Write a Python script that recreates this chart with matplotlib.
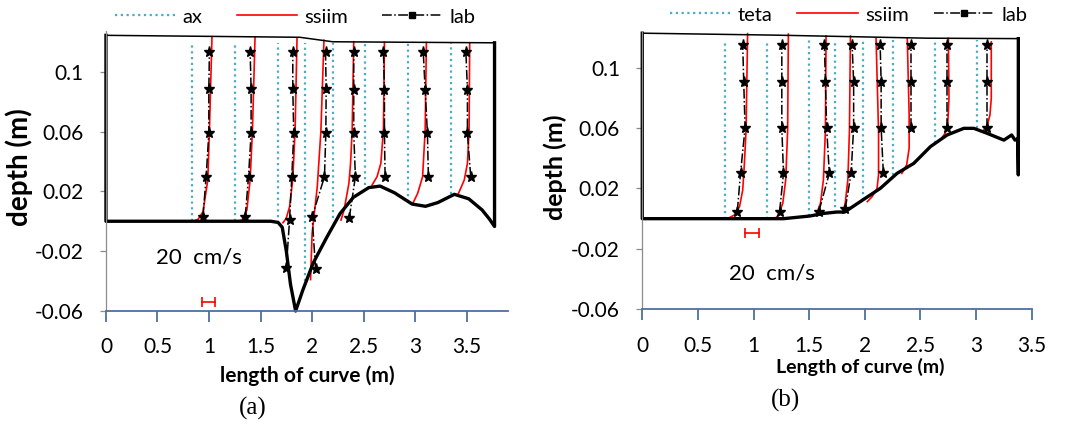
import numpy as np
import matplotlib.pyplot as plt

plt.rcParams['font.family'] = ['Lato', 'DejaVu Sans']

# масштаб скорости: 20 см/с -> 0.125 м по длине
SCALE = 0.125 / 20.0

# ---------------- (a) ----------------
a_bed_x = [0, 1.60, 1.67, 1.71, 1.75, 1.79, 1.84, 1.91, 2.01, 2.14, 2.27, 2.40,
           2.55, 2.66, 2.80, 2.97, 3.10, 3.22, 3.38, 3.52, 3.65, 3.72, 3.77]
a_bed_z = [0, 0, -0.0008, -0.004, -0.020, -0.042, -0.060, -0.046, -0.028, -0.011,
           0.005, 0.016, 0.0225, 0.0235, 0.019, 0.0115, 0.0100, 0.0125, 0.0180,
           0.0150, 0.0075, 0.0015, -0.0035]
a_surf_x = [0, 1.88, 2.2, 3.77]
a_surf_z = [0.1243, 0.1230, 0.1200, 0.1193]

a_st = [0.83, 1.25, 1.67, 1.93, 2.20, 2.51, 2.93, 3.35]
a_dot_bot = [0.0, 0.0, -0.001, -0.040, 0.002, 0.024, 0.013, 0.018]
a_dot_top = 0.1195

a_ssiim_z = [[0.0, 0.0013, 0.0063, 0.0276, 0.061, 0.1234],
             [0.0, 0.0008, 0.0074, 0.0276, 0.061, 0.1232],
             [-0.001, 0.0019, 0.0097, 0.0276, 0.061, 0.1225],
             [-0.039, -0.008, 0.023, 0.06, 0.121],
             [0.0008, 0.0075, 0.0253, 0.0387, 0.061, 0.120],
             [0.0242, 0.0298, 0.0387, 0.061, 0.1196],
             [0.0119, 0.0186, 0.0298, 0.061, 0.1195],
             [0.0175, 0.0276, 0.0387, 0.061, 0.119]]
a_ssiim_u = [[2.6, 10.1, 17.8, 25.3, 27.8, 31.8],
             [3.2, 11.2, 18.7, 23.8, 27.4, 31.4],
             [7.5, 12.6, 17.8, 22.7, 26.4, 29.4],
             [8.8, 11.2, 19.2, 24.8, 29.6],
             [12.8, 17.6, 25.1, 27.7, 30.2, 32.6],
             [11.5, 19.2, 25.1, 29.1, 30.7],
             [7.5, 15.0, 22.7, 26.7, 28.6],
             [10.1, 20.2, 25.1, 27.7, 28.6]]

a_lab_z = [[0.0031, 0.0298, 0.0588, 0.0882, 0.1134],
           [0.0031, 0.0298, 0.0588, 0.0882, 0.1134],
           [-0.031, 0.001, 0.0298, 0.0588, 0.0882, 0.1134],
           [-0.032, 0.003, 0.0298, 0.0588, 0.0882, 0.1134],
           [0.002, 0.0298, 0.0588, 0.0878, 0.1134],
           [0.0298, 0.0588, 0.0878, 0.1134],
           [0.0298, 0.0588, 0.0878, 0.1134],
           [0.0298, 0.0588, 0.0878, 0.1134]]
a_lab_u = [[17.8, 22.7, 26.9, 26.9, 27.8],
           [16.2, 21.3, 25.3, 25.3, 23.8],
           [12.8, 17.8, 21.3, 24.3, 22.8, 22.8],
           [16.6, 11.2, 30.4, 32.5, 33.0, 32.0],
           [25.6, 35.2, 32.6, 32.6, 32.6],
           [31.7, 30.7, 30.7, 29.1],
           [31.7, 30.2, 26.7, 23.7],
           [30.2, 25.1, 25.1, 22.7]]

# ---------------- (b) ----------------
b_bed_x = [0, 1.27, 1.51, 1.63, 1.75, 1.82, 1.87, 1.99, 2.14, 2.29, 2.44, 2.59,
           2.74, 2.89, 2.98, 3.10, 3.25, 3.32, 3.35, 3.375, 3.38, 3.38]
b_bed_z = [0, 0, 0.0018, 0.0035, 0.0044, 0.0044, 0.0069, 0.0128, 0.0201, 0.030,
           0.0366, 0.0477, 0.0554, 0.0598, 0.0598, 0.0565, 0.052, 0.0554, 0.052,
           0.053, 0.029, 0.1192]
b_surf_x = [0, 1.2, 2.55, 3.38]
b_surf_z = [0.1228, 0.1215, 0.1195, 0.1192]

b_st = [0.743, 1.123, 1.500, 1.731, 1.980, 2.255, 2.630, 3.010]
b_dot_bot = [0.0, 0.0, 0.002, 0.004, 0.0125, 0.029, 0.050, 0.060]
b_dot_top = 0.1185

b_ssiim_z = [[0.0003, 0.0025, 0.008, 0.019, 0.0367, 0.0587, 0.1225],
             [0.0003, 0.0025, 0.0102, 0.0257, 0.0587, 0.1222],
             [0.004, 0.0102, 0.0257, 0.0587, 0.121],
             [0.0047, 0.0102, 0.0257, 0.0587, 0.1209],
             [0.0113, 0.0146, 0.020, 0.029, 0.0576, 0.1194],
             [0.030, 0.0356, 0.0466, 0.0687, 0.1194],
             [0.0521, 0.0565, 0.062, 0.0797, 0.1194],
             [0.0576, 0.062, 0.0687, 0.0797, 0.117]]
b_ssiim_u = [[4.8, 13.9, 21.0, 25.6, 28.0, 30.4, 32.6],
             [11.7, 16.3, 22.4, 26.6, 29.4, 30.4],
             [11.2, 16.3, 20.5, 23.4, 24.3],
             [11.7, 14.9, 18.7, 21.0, 22.4],
             [6.9, 13.8, 20.8, 23.0, 23.0, 19.4],
             [12.5, 19.4, 23.0, 23.0, 20.3],
             [7.8, 14.7, 18.4, 20.3, 19.4],
             [7.8, 14.7, 18.4, 20.3, 20.3]]

b_lab_z = [[0.0047, 0.030, 0.0603, 0.0907, 0.115],
           [0.0047, 0.030, 0.0603, 0.0907, 0.115],
           [0.0047, 0.030, 0.0603, 0.0907, 0.115],
           [0.0065, 0.030, 0.0603, 0.0907, 0.115],
           [0.030, 0.0603, 0.0907, 0.115],
           [0.0603, 0.0907, 0.115],
           [0.0603, 0.0907, 0.115],
           [0.0603, 0.0907, 0.115]]
b_lab_u = [[17.8, 22.4, 29.0, 27.0, 25.6],
           [17.8, 23.4, 21.0, 21.0, 21.0],
           [13.9, 29.0, 25.1, 23.4, 21.9],
           [14.9, 23.4, 27.0, 27.0, 24.8],
           [29.9, 26.7, 26.7, 25.3],
           [26.2, 26.2, 26.2],
           [17.1, 17.1, 17.1],
           [14.7, 14.7, 14.7]]

x_ticks = [0, 0.5, 1, 1.5, 2, 2.5, 3, 3.5]
x_labels = ['0', '0.5', '1', '1.5', '2', '2.5', '3', '3.5']
y_ticks = [-0.06, -0.02, 0.02, 0.06, 0.1]
y_labels = ['-0.06', '-0.02', '0.02', '0.06', '0.1']

TEAL = '#4BACC6'
AXBLUE = '#4D6FA0'
DOTS = (0, (1, 1.6))


def draw(ax, bed_x, bed_z, surf_x, surf_z, st, dbot, dtop, sz, su, lz, lu,
         xmax, ytop):
    for i, x0 in enumerate(st):
        ax.plot([x0, x0], [dbot[i], dtop], color=TEAL, lw=1.6, linestyle=DOTS)
        ax.plot(x0 + np.array(su[i]) * SCALE, sz[i], color='red', lw=1.2)
        ax.plot(x0 + np.array(lu[i]) * SCALE, lz[i], color='black', lw=1.1,
                linestyle='-.', marker='*', ms=8)
    # дно и стенки
    ax.plot([0] + bed_x + [bed_x[-1]], [surf_z[0]] + bed_z + [surf_z[-1]],
            color='black', lw=2.4, clip_on=False, solid_joinstyle='round')
    ax.plot(surf_x, surf_z, color='black', lw=1.1, clip_on=False)

    ax.set_xlim(0, xmax)
    ax.set_ylim(-0.06, ytop)
    ax.set_xticks(x_ticks)
    ax.set_xticklabels(x_labels)
    ax.set_yticks(y_ticks)
    ax.set_yticklabels(y_labels)
    for s in ['top', 'right']:
        ax.spines[s].set_visible(False)
    ax.spines['left'].set_color('#8C8C8C')
    ax.spines['left'].set_linewidth(0.9)
    ax.spines['bottom'].set_color(AXBLUE)
    ax.spines['bottom'].set_linewidth(1.3)
    ax.tick_params(axis='x', direction='out', length=8, width=1.3,
                   color=AXBLUE, pad=11, labelsize=15)
    ax.tick_params(axis='y', direction='out', length=4, width=0.9,
                   color='#8C8C8C', pad=12, labelsize=15)


fig = plt.figure(figsize=(10.66, 4.24), dpi=100)
ax1 = fig.add_axes([0.0994, 0.2665, 0.3771, 0.6597])
ax2 = fig.add_axes([0.6025, 0.2705, 0.3653, 0.6548])

draw(ax1, a_bed_x, a_bed_z, a_surf_x, a_surf_z, a_st, a_dot_bot, a_dot_top,
     a_ssiim_z, a_ssiim_u, a_lab_z, a_lab_u, 3.9, 0.127)
draw(ax2, b_bed_x, b_bed_z, b_surf_x, b_surf_z, b_st, b_dot_bot, b_dot_top,
     b_ssiim_z, b_ssiim_u, b_lab_z, b_lab_u, 3.5, 0.1238)

# масштабная черта 20 см/с
for ax, bx, bz, tx, tz in [(ax1, 0.93, -0.054, 0.905, -0.0243),
                           (ax2, 0.923, -0.0097, 1.163, -0.0366)]:
    ax.plot([bx, bx + 20 * SCALE], [bz, bz], color='red', lw=1.2,
            marker='|', ms=7, mew=1.2)
    ax.text(tx, tz, '20  cm/s', fontsize=16, ha='center', va='center')

ax1.set_xlabel('length of curve (m)', fontsize=15, fontweight='bold', va='top')
ax1.xaxis.set_label_coords(0.5, -0.195)
ax1.set_ylabel('depth (m)', fontsize=20, fontweight='bold')
ax1.yaxis.set_label_coords(-0.182, 0.513)
ax2.set_xlabel('Length of curve (m)', fontsize=14, fontweight='bold', va='top')
ax2.xaxis.set_label_coords(0.559, -0.175)
ax2.set_ylabel('depth (m)', fontsize=18, fontweight='bold')
ax2.yaxis.set_label_coords(-0.193, 0.513)

# легенды
for x_leg, y_leg, name, cs in [(115, 17, 'ax', 1.7), (670, 15, 'teta', 1.25)]:
    h1, = ax1.plot([], [], color=TEAL, lw=1.6, linestyle=DOTS)
    h2, = ax1.plot([], [], color='red', lw=1.2)
    h3, = ax1.plot([], [], color='black', lw=1.1, linestyle='-.', marker='s', ms=4)
    fig.legend([h1, h2, h3], [name, 'ssiim', 'lab'], ncol=3, frameon=False,
               loc='center left',
               bbox_to_anchor=(x_leg / 1066, 1 - y_leg / 424),
               fontsize=14.5, handlelength=3.0, columnspacing=cs,
               handletextpad=0.35, borderpad=0.0, borderaxespad=0.0)

fig.text(253 / 1066, 1 - 408 / 424, '(a)', family='Liberation Serif',
         fontsize=18, ha='center', va='center')
fig.text(786 / 1066, 1 - 400 / 424, '(b)', family='Liberation Serif',
         fontsize=18, ha='center', va='center')

fig.savefig('out.png', dpi=100)
